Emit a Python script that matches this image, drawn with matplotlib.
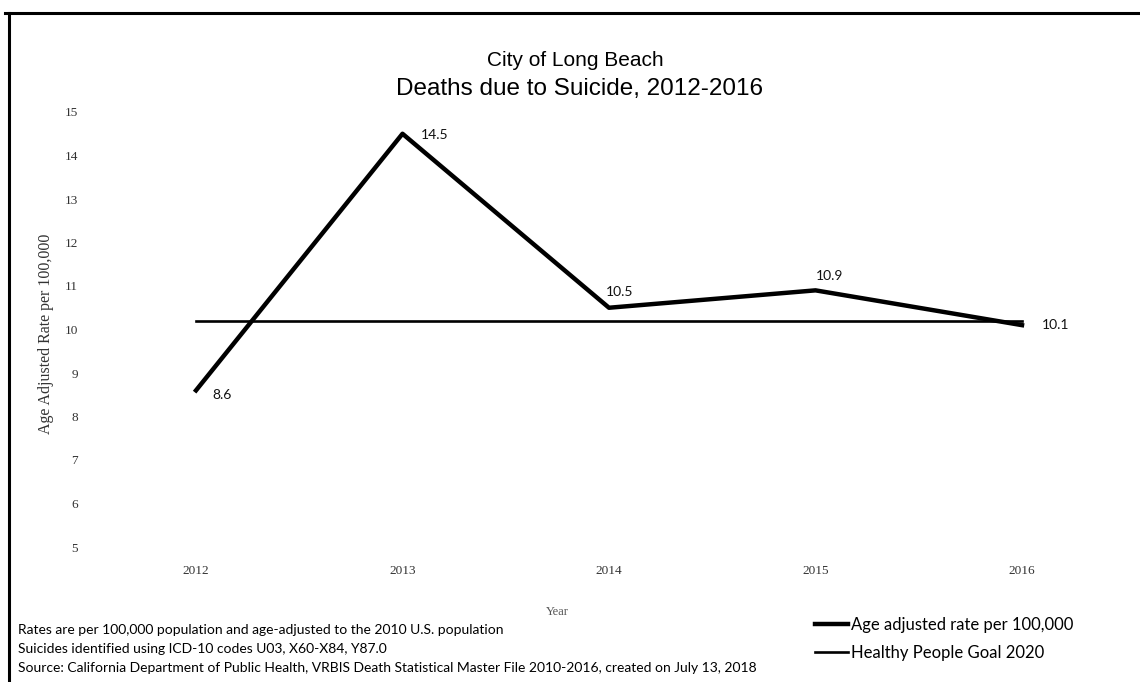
import matplotlib
matplotlib.use("Agg")
import matplotlib.pyplot as plt
from matplotlib.lines import Line2D

years = ["2012", "2013", "2014", "2015", "2016"]
rates = [8.6, 14.5, 10.5, 10.9, 10.1]
goal = [10.2, 10.2, 10.2, 10.2, 10.2]
rate_labels = ["8.6", "14.5", "10.5", "10.9", "10.1"]
yticks = [5, 6, 7, 8, 9, 10, 11, 12, 13, 14, 15]
footnotes = [
    "Rates are per 100,000 population and age-adjusted to the 2010 U.S. population",
    "Suicides identified using ICD-10 codes U03, X60-X84, Y87.0",
    "Source: California Department of Public Health, VRBIS Death Statistical Master File 2010-2016, created on July 13, 2018",
]
legend_labels = ["Age adjusted rate per 100,000", "Healthy People Goal 2020"]

W, H = 1140, 682
fig = plt.figure(figsize=(W / 100, H / 100), dpi=100)
fig.patch.set_facecolor("white")

sans = ["Liberation Sans", "DejaVu Sans"]
cal = ["Lato", "DejaVu Sans"]
serif = ["Liberation Serif", "DejaVu Serif"]

def fx(px):
    return px / W

def fy(py):
    return 1 - py / H

# figure border lines (top and left)
fig.add_artist(Line2D([fx(5), fx(1140)], [fy(13), fy(13)], color="black", lw=2.2))
fig.add_artist(Line2D([fx(9), fx(9)], [fy(13), fy(682)], color="black", lw=2.2))

x0, x1 = 196, 1022
y15, y5 = 112, 547
ax = fig.add_axes([fx(x0), fy(y5), (x1 - x0) / W, (y5 - y15) / H])
xs = list(range(len(years)))
ax.plot(xs, goal, color="black", lw=1.9, clip_on=False, label=legend_labels[1], zorder=2)
ax.plot(xs, rates, color="black", lw=3.2, clip_on=False, label=legend_labels[0], zorder=3)
ax.set_xlim(0, 4)
ax.set_ylim(5, 15)
for s in ax.spines.values():
    s.set_visible(False)
ax.set_xticks(xs)
ax.set_xticklabels(years, fontfamily=serif, fontsize=9.5, color="#333333")
ax.set_yticks(yticks)
ax.set_yticklabels([str(v) for v in yticks], fontfamily=serif, fontsize=9.5, color="#333333")
ax.tick_params(axis="x", length=0, pad=13)
ax.tick_params(axis="y", length=0, pad=85)
ax.set_ylabel("Age Adjusted Rate per 100,000", fontfamily=serif, fontsize=11.5, color="#333333")
ax.yaxis.set_label_coords(-0.172, 0.49)

offsets = [(12, -3), (13, -1), (-2, 11), (0, 10), (14, 0)]
has = ["left", "left", "left", "left", "left"]
for i, (lbl, v) in enumerate(zip(rate_labels, rates)):
    ax.annotate(lbl, (xs[i], v), xytext=offsets[i], textcoords="offset points",
                ha=has[i], va="center", fontsize=10, fontfamily=cal, color="#111111")

# titles
fig.text(fx(575), fy(60), "City of Long Beach", ha="center", va="center",
         fontsize=15, fontfamily=sans)
fig.text(fx(580), fy(89), "Deaths due to Suicide, 2012-2016", ha="center", va="center",
         fontsize=17.5, fontfamily=sans)

fig.text(fx(557), fy(612), "Year", ha="center", va="center", fontsize=9,
         fontfamily=serif, color="#555555")

for t, py in zip(footnotes, [630, 649, 668]):
    fig.text(fx(18), fy(py), t, ha="left", va="center", fontsize=10, fontfamily=cal)

h, l = ax.get_legend_handles_labels()
order = [1, 0]
leg = fig.legend([h[i] for i in order], [l[i] for i in order], loc="upper left",
                 bbox_to_anchor=(fx(808), fy(610)), frameon=False,
                 prop={"family": cal, "size": 12}, handlelength=2.0, handletextpad=0.2,
                 labelspacing=0.75, borderaxespad=0)

fig.savefig("out.png", dpi=100, facecolor="white")
